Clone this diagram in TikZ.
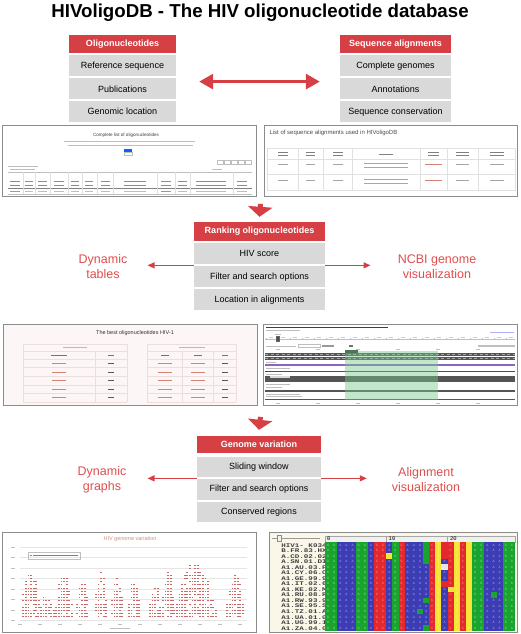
\documentclass[tikz,border=0pt]{standalone}
\usepackage{fontspec}
\setmainfont{Liberation Sans}
\newfontfamily\monofont{Liberation Mono}
\usetikzlibrary{positioning,arrows.meta,calc}

\definecolor{hivred}{RGB}{214,64,69}
\definecolor{txtred}{RGB}{222,78,78}
\definecolor{rowgray}{RGB}{217,217,217}
\definecolor{shotgray}{RGB}{140,140,140}
\definecolor{barg}{RGB}{190,190,190}
\definecolor{linkred}{RGB}{215,130,120}
\definecolor{pinkbg}{RGB}{252,247,246}
\definecolor{tabpink}{RGB}{236,222,220}
\definecolor{ncbigreen}{RGB}{120,200,140}
\definecolor{trackdark}{RGB}{85,85,85}
\definecolor{trackpurple}{RGB}{140,100,190}
\definecolor{trackblue}{RGB}{60,70,160}
\definecolor{dotred}{RGB}{200,105,105}
\definecolor{plottitle}{RGB}{205,145,130}
\definecolor{cream}{RGB}{250,246,232}
\definecolor{ag}{RGB}{25,165,45}
\definecolor{ab}{RGB}{60,60,180}
\definecolor{ar}{RGB}{228,40,45}
\definecolor{ay}{RGB}{248,228,50}

\tikzset{
	headbox/.style={fill=hivred, text=white, font=\bfseries\fontsize{9}{10}\selectfont, minimum width=#1, minimum height=18pt, inner sep=0pt},
	itembox/.style={fill=rowgray, font=\fontsize{9}{10}\selectfont, minimum width=#1, minimum height=21pt, inner sep=0pt},
	sidetext/.style={text=txtred, font=\fontsize{12.5}{15}\selectfont, align=center, inner sep=0pt},
	screenshot/.style={draw=shotgray, line width=0.9pt, fill=white, inner sep=0pt, anchor=north west},
	tabline/.style={draw=tabpink, line width=0.4pt},
	seqname/.style={anchor=west, font=\monofont\bfseries\fontsize{5.6}{5.6}\selectfont, text=black!75, inner sep=0pt, xscale=1.35, transform shape},
	baseletter/.style={font=\monofont\fontsize{3.4}{3.4}\selectfont, text=white, opacity=0.55, inner sep=0pt},
	dblarrow/.style={hivred, line width=3pt, {Triangle[width=15pt,length=14pt]}-{Triangle[width=15pt,length=14pt]}},
	downarrow/.style={hivred, line width=5pt, -{Triangle[width=24pt,length=10pt]}},
	sidearrow/.style={hivred, line width=1.2pt, -{Triangle[width=6pt,length=7pt]}}
}

\begin{document}
\begin{tikzpicture}[x=1pt, y=-1pt]
	\useasboundingbox (0,0) rectangle (520,634);
	\node[font=\bfseries\fontsize{18.7}{22}\selectfont, anchor=base] (title) at (260,17.5) {HIVoligoDB - The HIV oligonucleotide database};
	
	\node[headbox=107pt] (olig) at (122.5,44) {Oligonucleotides};
	\node[itembox=107pt, below=2pt of olig] (refseq) {Reference sequence};
	\node[itembox=107pt, below=1.5pt of refseq] (pub) {Publications};
	\node[itembox=107pt, below=1.5pt of pub] (genloc) {Genomic location};
	
	\node[headbox=111pt] (seqal) at (395.5,44) {Sequence alignments};
	\node[itembox=111pt, below=2pt of seqal] (compgen) {Complete genomes};
	\node[itembox=111pt, below=1.5pt of compgen] (annot) {Annotations};
	\node[itembox=111pt, below=1.5pt of annot] (seqcons) {Sequence conservation};
	
	\draw[dblarrow] ([shift={(23,5)}]refseq.south east) -- ([shift={(-20,5)}]compgen.south west);
	
	\node[screenshot, minimum width=254pt, minimum height=71pt] (oligtab) at (2,125) {};
	\node[font=\fontsize{4.6}{5}\selectfont, text=black!75] (oligtabtitle) at (126,135) {Complete list of oligonucleotides};
	\fill[barg] (64,140.5) rectangle (195,141.3);
	\fill[barg] (68,144.5) rectangle (193,145.3);
	\fill[blue!60!cyan] (124,148.5) rectangle (132,151.5);
	\draw[barg, line width=0.3pt] (124,152) rectangle (132,155);
	\fill[barg] (8,166) rectangle (38,166.8);
	\fill[barg] (10,169) rectangle (35,169.8);
	\foreach \x in {217,224,231,238,245}
	\draw[barg, line width=0.3pt] (\x,160) rectangle ++(6,4);
	\fill[barg] (212,169) rectangle (222,169.8);
	\draw[barg, line width=0.3pt] (8,172) -- (252,172);
	\draw[black!50, line width=0.4pt] (8,188) -- (252,188);
	\draw[barg, line width=0.3pt] (8,194) -- (252,194);
	\foreach \x in {23,35,50,68,82,97,113,157,175,190,233}
	\draw[black!12, line width=0.3pt] (\x,172) -- (\x,194);
	\foreach \x/\w in {15/10, 29/8, 42/9, 59/10, 75/8, 89/8, 105/9, 135/22, 166/10, 182/9, 211/30, 242/10} {
		\fill[black!45] (\x-\w/2,181) rectangle (\x+\w/2,181.8);
		\fill[black!45] (\x-\w/2,184.5) rectangle (\x+\w/2,185.3);
		\fill[barg] (\x-\w/2,190.5) rectangle (\x+\w/2,191.3);
	}
	\fill[linkred] (10,190.5) rectangle (20,191.3);
	\fill[linkred] (161,190.5) rectangle (171,191.3);
	
	\node[screenshot, minimum width=253pt, minimum height=71pt] (aligntab) at (264,125) {};
	\node[anchor=west, font=\fontsize{6}{7}\selectfont, text=black!70] (aligntabtitle) at (266,132.5) {List of sequence alignments used in HIVoligoDB};
	\draw[black!12, line width=0.3pt] (267,148) rectangle (515,190);
	\foreach \y in {159,174}
	\draw[black!12, line width=0.3pt] (267,\y) -- (515,\y);
	\foreach \x in {298,323,352,420,447,478}
	\draw[black!12, line width=0.3pt] (\x,148) -- (\x,190);
	\foreach \x/\w in {282.5/10, 310.5/9, 337.5/10, 433.5/11, 462.5/13, 496.5/14} {
		\fill[black!50] (\x-\w/2,152) rectangle (\x+\w/2,152.8);
		\fill[black!50] (\x-\w/2,155) rectangle (\x+\w/2,155.8);
		\fill[black!35] (\x-\w/2,164) rectangle (\x+\w/2,164.8);
		\fill[black!35] (\x-\w/2,180) rectangle (\x+\w/2,180.8);
	}
	\fill[black!50] (379,153.5) rectangle (393,154.3);
	\foreach \y in {163,166.5,179,182.5}
	\fill[black!35] (364,\y) rectangle (408,\y+0.8);
	\fill[linkred] (425,164) rectangle (442,164.8);
	\fill[linkred] (425,180) rectangle (442,180.8);
	
	\coordinate (gap1) at ($(oligtab.south east)!0.5!(aligntab.south west)$);
	\node[headbox=131pt, minimum height=19pt] (rank) at (259.5,231.5) {Ranking oligonucleotides};
	\node[itembox=131pt, below=2pt of rank] (hivscore) {HIV score};
	\node[itembox=131pt, below=1.5pt of hivscore] (filt1) {Filter and search options};
	\node[itembox=131pt, below=1.5pt of filt1] (localn) {Location in alignments};
	\draw[downarrow] ([yshift=-7pt]gap1) -- ([yshift=5pt]rank.north);
	
	\node[sidetext] (dyntab) at (103,266.5) {Dynamic\\tables};
	\node[sidetext] (ncbivis) at (437,266.5) {NCBI genome\\visualization};
	\coordinate (rk1) at ($(hivscore.south west)!0.5!(filt1.north west)$);
	\coordinate (rk2) at ($(hivscore.south east)!0.5!(filt1.north east)$);
	\draw[sidearrow, shorten >=20pt] (rk1) -- (rk1 -| dyntab.east);
	\draw[sidearrow, shorten >=27pt] (rk2) -- (rk2 -| ncbivis.west);
	
	\node[screenshot, minimum width=254pt, minimum height=81pt, fill=pinkbg] (besttab) at (3,324) {};
	\node[font=\fontsize{5.5}{6}\selectfont, text=black!80] (besttabtitle) at (135,333) {The best oligonucleotides HIV-1};
	\foreach \y in {344,351,359,367.6,376.2,384.8,393.4,402} {
		\draw[tabline] (23,\y) -- (127,\y);
		\draw[tabline] (147,\y) -- (236,\y);
	}
	\foreach \x in {23,127,147,236}
	\draw[tabline] (\x,344) -- (\x,402);
	\foreach \x in {95,182,213}
	\draw[tabline] (\x,351) -- (\x,402);
	\fill[linkred!70] (63,347) rectangle (87,347.8);
	\fill[linkred!70] (179,347) rectangle (205,347.8);
	\foreach \x/\w in {59/16, 111/6, 164.5/8, 197.5/8, 224.5/6}
	\fill[black!55] (\x-\w/2,354.6) rectangle (\x+\w/2,355.4);
	\foreach \y in {363.3,371.9,380.5,389.1,397.7} {
		\foreach \x in {59,164.5,197.5}
		\fill[linkred] (\x-7,\y-0.4) rectangle (\x+7,\y+0.4);
		\foreach \x in {111,224.5}
		\fill[black!65] (\x-3,\y-0.4) rectangle (\x+3,\y+0.4);
	}
	
	\node[screenshot, minimum width=254pt, minimum height=81pt] (ncbi) at (263,324) {};
	\fill[black!75] (266,326.5) rectangle (388,328);
	\fill[barg] (266,329.5) rectangle (300,330.3);
	\fill[blue!30] (490,332) rectangle (514,332.8);
	\draw[barg, line width=0.4pt] (265,339) -- (515,339);
	\foreach \x in {266,278,...,514} {
		\draw[barg, line width=0.3pt] (\x,338) -- (\x,340);
		\fill[black!20] (\x+3,337.2) rectangle (\x+7,338);
	}
	\fill[barg] (275,333.5) rectangle (281,334.3);
	\draw[black!60, fill=black!70, line width=0.3pt] (276.5,336) rectangle (279,341);
	\fill[barg] (266,345.5) rectangle (296,346.8);
	\draw[barg, line width=0.3pt] (298,344.5) rectangle (320,347.5);
	\fill[black!40] (322,345) rectangle (334,347);
	\fill[black!55] (349,345) rectangle (353,347);
	\fill[barg] (478,345) rectangle (515,346.8);
	\foreach \x in {276,316,356,396,436,476} {
		\fill[barg] (\x,349) rectangle (\x+4,349.8);
		\fill[barg] (\x,402.5) rectangle (\x+4,403.3);
	}
	\fill[trackdark] (265,353) rectangle (515,356.2);
	\fill[trackdark] (265,356.8) rectangle (515,360);
	\draw[black!35, line width=0.8pt, dash pattern=on 3pt off 2.5pt] (265,354.6) -- (515,354.6);
	\draw[black!35, line width=0.8pt, dash pattern=on 3pt off 2.5pt] (265,358.4) -- (515,358.4);
	\fill[barg] (266,361.5) rectangle (276,362.3);
	\fill[trackpurple] (265,364) rectangle (515,365.8);
	\fill[barg] (266,368) rectangle (290,368.8);
	\fill[trackblue] (265,370.5) rectangle (515,372.3);
	\fill[barg] (266,373.7) rectangle (282,374.5);
	\fill[trackdark] (265,375.5) rectangle (515,378.5);
	\fill[trackdark] (265,379) rectangle (515,382);
	\fill[black!15] (270,376.3) rectangle (290,377.7);
	\fill[barg] (266,384) rectangle (290,384.8);
	\fill[barg] (266,386.8) rectangle (282,387.6);
	\fill[trackdark] (265,389.5) rectangle (515,391.5);
	\fill[barg] (266,393.5) rectangle (300,394.3);
	\fill[barg] (266,396) rectangle (302,396.8);
	\fill[trackdark] (265,398.5) rectangle (515,400.2);
	\fill[ncbigreen, opacity=0.45] (345,351) rectangle (438,400);
	\fill[ncbigreen!60!black] (345,349.5) rectangle (358,352.5);
	
	\coordinate (gap2) at ($(besttab.south east)!0.5!(ncbi.south west)$);
	\node[headbox=124pt, minimum height=17pt] (genvar) at (259,444.5) {Genome variation};
	\node[itembox=124pt, minimum height=20.5pt, below=3.5pt of genvar] (slide) {Sliding window};
	\node[itembox=124pt, minimum height=20.5pt, below=1.5pt of slide] (filt2) {Filter and search options};
	\node[itembox=124pt, minimum height=20.5pt, below=1.5pt of filt2] (consreg) {Conserved regions};
	\draw[downarrow] ([yshift=-11pt]gap2) -- ([yshift=6pt]genvar.north);
	
	\node[sidetext] (dyngraph) at (102,479.5) {Dynamic\\graphs};
	\node[sidetext] (alignvis) at (426,479.5) {Alignment\\visualization};
	\coordinate (gv1) at ($(slide.south west)!0.5!(filt2.north west)$);
	\coordinate (gv2) at ($(slide.south east)!0.5!(filt2.north east)$);
	\draw[sidearrow, shorten >=21pt] (gv1) -- (gv1 -| dyngraph.east);
	\draw[sidearrow, shorten >=25pt] (gv2) -- (gv2 -| alignvis.west);
	
	\node[screenshot, minimum width=254pt, minimum height=100pt] (vargraph) at (2,532) {};
	\node[font=\fontsize{5.5}{6}\selectfont, text=plottitle] (vargraphtitle) at (130,539) {HIV genome variation};
	\foreach \y in {547,557.5,568,578.5,589,599.5,610,620} {
		\draw[black!10, line width=0.3pt] (20,\y) -- (247,\y);
		\fill[barg] (11,\y-0.4) rectangle (15,\y+0.4);
	}
	\foreach \x in {20,40,...,240}
	\fill[barg] (\x-2,623.6) rectangle (\x+2,624.4);
	\fill[barg] (110,628) rectangle (130,628.8);
	\draw[black!25, line width=0.3pt] (28,552) rectangle (80,559);
	\fill[dotred] (30,555) rectangle (31.5,556);
	\fill[black!50] (33,555.1) rectangle (78,555.9);
	\pgfmathsetseed{7}
	\foreach \c/\n/\h in {31/3/19, 46/3/8, 64/3/16, 82/2/16, 101/2/16, 117/2/14, 134/2/14, 155/2/12, 168/2/16, 195/8/19, 235/3/16} {
		\foreach \k in {-\n,...,\n} {
			\pgfmathtruncatemacro\hh{max(1, \h*(1-(\k/(\n+1))^2)*(0.75+0.25*rnd))}
			\foreach \j in {1,...,\hh} {
				\pgfmathtruncatemacro\keep{rnd<0.8 ? 1 : 0}
				\ifnum\keep=1
				\fill[dotred] (\c+2.6*\k-0.9, 620-3.2*\j-0.4) rectangle (\c+2.6*\k+0.9, 620-3.2*\j+0.4);
				\fi
			}
		}
	}
	
	\node[screenshot, minimum width=248pt, minimum height=100pt, fill=cream] (alnview) at (269,532) {};
	\fill[black!6] (325,536) rectangle (515,542);
	\draw[black!35, line width=0.3pt] (325,536) rectangle (515,542);
	\foreach \x in {386.3,447.6}
	\draw[black!35, line width=0.3pt] (\x,536) -- (\x,542);
	\node[anchor=west, font=\monofont\fontsize{5.5}{6}\selectfont, inner sep=0pt] (tick0) at (327,539) {0};
	\node[anchor=west, font=\monofont\fontsize{5.5}{6}\selectfont, inner sep=0pt] (tick10) at (388.5,539) {10};
	\node[anchor=west, font=\monofont\fontsize{5.5}{6}\selectfont, inner sep=0pt] (tick20) at (449.8,539) {20};
	\draw[black!40, line width=0.4pt] (272,538.5) -- (320,538.5);
	\draw[black!45, fill=black!5, line width=0.3pt] (277,535.5) rectangle (281,541.5);
	\begin{scope}
		\clip (272,542) rectangle (325,632);
		\foreach \nm [count=\i from 0] in {HIV1- K034, B.FR.83.HX, A.CD.02.02, A.SN.01.DI, A1.AU.03.P, A1.CY.06.C, A1.GE.99.9, A1.IT.02.6, A1.KE.02.M, A1.RU.08.R, A1.RW.93.9, A1.SE.95.S, A1.TZ.01.A, A1.UA.01.0, A1.UG.99.1, A1.ZA.04.0}
		\node[seqname] at (281,545.3+5.53*\i) {\nm};
	\end{scope}
	\foreach \c/\cc/\b in {0/ag/G,1/ag/G,2/ab/A,3/ab/A,4/ab/A,5/ag/G,6/ag/G,7/ab/A,8/ar/C,9/ar/C,10/ab/A,11/ag/G,12/ar/C,13/ab/A,14/ab/A,15/ab/A,16/ab/A,17/ar/C,18/ay/T,19/ab/A,20/ar/C,21/ay/T,22/ar/C,23/ay/T,24/ag/G,25/ag/G,26/ab/A,27/ab/A,28/ab/A,29/ag/G,30/ag/G} {
		\fill[\cc] (325+\c*6.13,542.3) rectangle ++(6.13,88.5);
		\foreach \r in {0,...,15}
		\node[baseletter] at (328.07+\c*6.13,545.07+\r*5.53) {\b};
	}
	\foreach \c/\r/\cc in {16/0/ag,16/1/ag,16/2/ag,16/3/ag,10/2/ay,19/0/ar,19/1/ar,19/2/ar,19/4/black!10,19/7/ar,20/8/ay,27/9/ag,16/10/ag,15/12/ag,16/15/ag}
	\fill[\cc] (325+\c*6.13,542.3+\r*5.53) rectangle ++(6.13,5.53);
\end{tikzpicture}
\end{document}
